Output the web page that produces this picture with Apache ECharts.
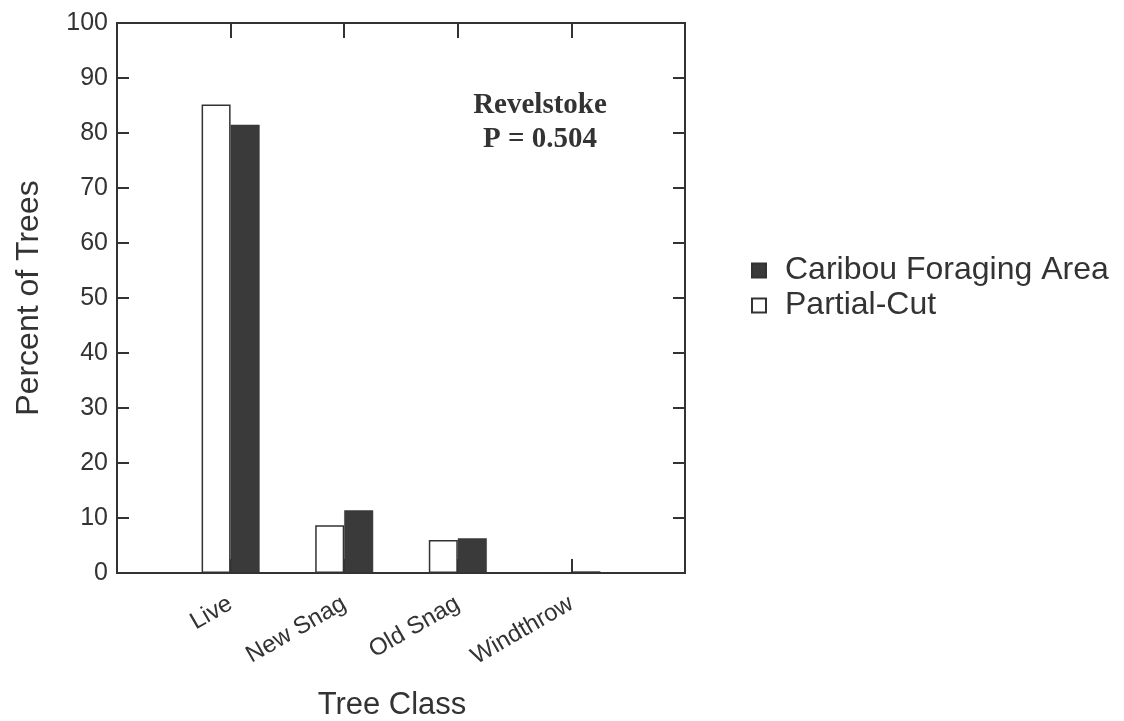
<!DOCTYPE html>
<html>
<head>
<meta charset="utf-8">
<script src="https://cdn.jsdelivr.net/npm/echarts@6/dist/echarts.min.js"></script>
<style>
html,body{margin:0;padding:0;background:#fff;overflow:hidden;}
#chart{width:1124px;height:721px;}
</style>
</head>
<body>
<div id="chart"></div>
<script>
// Data
const categories = ['', 'Live', 'New Snag', 'Old Snag', 'Windthrow', ''];
const partialCut = [null, 85.2, 8.7, 6.0, 0, null];
const caribouForaging = [null, 81.5, 11.4, 6.3, 0.3, null];
const yTicks = [0, 10, 20, 30, 40, 50, 60, 70, 80, 90, 100];

const ink = '#333';
const font = '"Liberation Sans", Arial, sans-serif';
const tickFilter = function (i, v) { return v !== ''; };

const chart = echarts.init(document.getElementById('chart'));
chart.setOption({
  animation: false,
  backgroundColor: '#fff',
  grid: {
    left: 117, right: 439, top: 23, bottom: 148,
    outerBoundsMode: 'none',
    containLabel: false,
    show: true, borderColor: ink, borderWidth: 2, backgroundColor: 'transparent'
  },
  legend: {
    orient: 'vertical',
    left: 746, top: 248,
    itemWidth: 14, itemHeight: 14, itemGap: 0,
    icon: 'rect',
    data: ['Caribou Foraging Area', 'Partial-Cut'],
    textStyle: { fontFamily: font, fontSize: 32, color: ink, padding: [0, 0, 0, 14], lineHeight: 35 }
  },
  xAxis: [{
    type: 'category',
    data: categories,
    boundaryGap: false,
    position: 'bottom',
    name: 'Tree Class',
    nameLocation: 'middle',
    nameGap: 117,
    nameTextStyle: { fontFamily: font, fontSize: 31, color: ink, padding: [0, 18, 0, 0] },
    axisLine: { show: true, onZero: false, lineStyle: { color: ink, width: 2 } },
    axisTick: { show: true, inside: true, length: 14, lineStyle: { color: ink, width: 2 }, interval: tickFilter },
    axisLabel: { rotate: 30, margin: 29, fontFamily: font, fontSize: 24, color: ink, interval: tickFilter },
    splitLine: { show: false }
  }, {
    type: 'category',
    data: categories,
    boundaryGap: false,
    position: 'top',
    axisLine: { show: true, onZero: false, lineStyle: { color: ink, width: 2 } },
    axisTick: { show: true, inside: true, length: 15, lineStyle: { color: ink, width: 2 }, interval: tickFilter },
    axisLabel: { show: false },
    splitLine: { show: false }
  }],
  yAxis: [{
    type: 'value',
    min: 0, max: 100, interval: 10,
    position: 'left',
    name: 'Percent of Trees',
    nameLocation: 'middle',
    nameGap: 72,
    nameTextStyle: { fontFamily: font, fontSize: 32, color: ink },
    axisLine: { show: true, onZero: false, lineStyle: { color: ink, width: 2 } },
    axisTick: { show: true, inside: true, length: 12, lineStyle: { color: ink, width: 2 } },
    axisLabel: { fontFamily: font, fontSize: 25, color: ink, margin: 9,
      formatter: function (v) { return yTicks.indexOf(v) >= 0 ? String(v) : ''; } },
    splitLine: { show: false }
  }, {
    type: 'value',
    min: 0, max: 100, interval: 10,
    position: 'right',
    axisLine: { show: true, onZero: false, lineStyle: { color: ink, width: 2 } },
    axisTick: { show: true, inside: true, length: 12, lineStyle: { color: ink, width: 2 } },
    axisLabel: { show: false },
    splitLine: { show: false }
  }],
  graphic: [{
    type: 'text',
    x: 540, y: 123,
    style: {
      text: 'Revelstoke\nP = 0.504',
      fontFamily: '"Liberation Serif", "Times New Roman", serif',
      fontWeight: 'bold',
      fontSize: 29,
      lineHeight: 34,
      fill: ink,
      align: 'center',
      verticalAlign: 'middle'
    }
  }],
  series: [{
    name: 'Partial-Cut',
    type: 'bar',
    xAxisIndex: 0, yAxisIndex: 0,
    data: partialCut,
    barWidth: 29,
    barGap: '0%',
    itemStyle: { color: '#fff', borderColor: ink, borderWidth: 1.5 }
  }, {
    name: 'Caribou Foraging Area',
    type: 'bar',
    xAxisIndex: 0, yAxisIndex: 0,
    data: caribouForaging,
    barWidth: 29,
    barGap: '0%',
    itemStyle: { color: '#3a3a3a', borderColor: '#333', borderWidth: 0.5 }
  }]
});
</script>
</body>
</html>
